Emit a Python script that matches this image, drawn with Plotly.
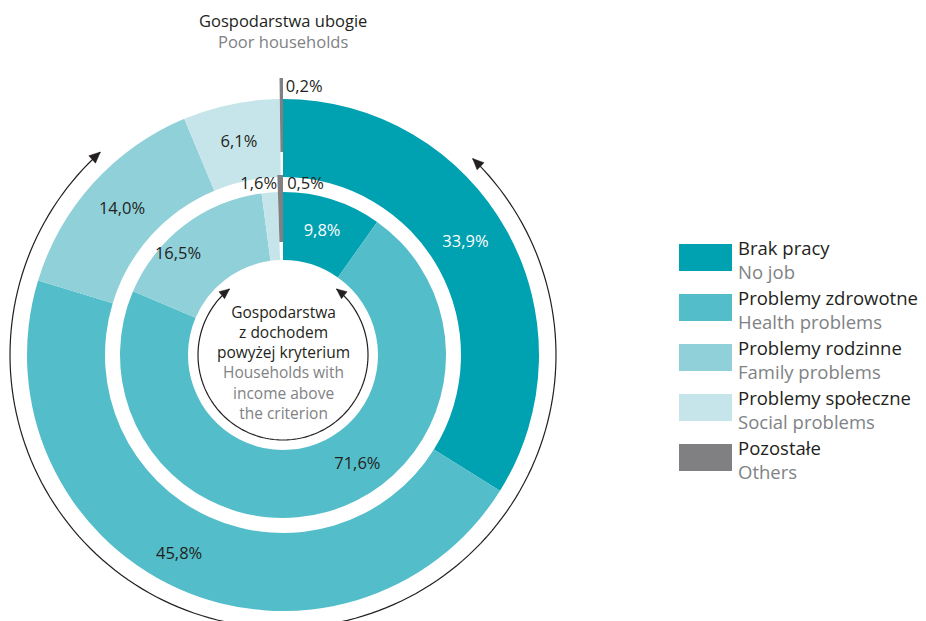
import numpy as np
import plotly.graph_objects as go

# ---- data ---------------------------------------------------------------
categories_pl = ["Brak pracy", "Problemy zdrowotne", "Problemy rodzinne",
                 "Problemy społeczne", "Pozostałe"]
categories_en = ["No job", "Health problems", "Family problems",
                 "Social problems", "Others"]
poor_share = [33.9, 45.8, 14.0, 6.1, 0.2]        # outer ring: poor households
above_share = [9.8, 71.6, 16.5, 1.6, 0.5]        # inner ring: income above criterion

# ---- style --------------------------------------------------------------
colors = ["#00a1b1", "#53bdca", "#8fd0d9", "#c6e5eb", "#808083"]
DARK = "#231f20"
GREY = "#808285"
FONT = "Open Sans"

W, H = 926, 621
CX, CY = 283, 355          # ring centre in pixels
R_AX = 266                 # radial axis length of the main polar (1 unit == 1 px)
R_TOP = 290                # radial length of the narrow top sector (1 unit == 1 px)

# ring geometry in radial units
OUTER_BASE, OUTER_T = 178, 78
INNER_BASE, INNER_T = 95, 68
OTHER_OUTER = (203, 74)    # "others" drawn as a protruding tick
OTHER_INNER = (113, 67)

LABEL_SIZE = 16.5


def pct(v):
    return f"{v:.1f}".replace(".", ",") + "%"


def ring_geometry(values):
    v = np.asarray(values, dtype=float)
    ends = np.cumsum(v) * 3.6
    starts = ends - v * 3.6
    return (starts + ends) / 2, v * 3.6


fig = go.Figure()

rings = [
    ("outer", poor_share, OUTER_BASE, OUTER_T, OTHER_OUTER),
    ("inner", above_share, INNER_BASE, INNER_T, OTHER_INNER),
]
for name, vals, base, thick, other in rings:
    mids, widths = ring_geometry(vals)
    bases = [base] * (len(vals) - 1) + [other[0]]
    lengths = [thick] * (len(vals) - 1) + [other[1]]
    n = len(vals) if name == "inner" else len(vals) - 1
    fig.add_trace(go.Barpolar(
        theta=mids[:n], width=widths[:n], base=bases[:n], r=lengths[:n],
        marker=dict(color=colors[:n], line=dict(width=0)),
        hoverinfo="skip", showlegend=False, name=name,
    ))
    if name == "outer":
        # the outer "others" tick reaches past the main polar's radius,
        # so it lives in a narrow top sector sharing the same centre/scale
        fig.add_trace(go.Barpolar(
            theta=mids[n:], width=widths[n:], base=bases[n:], r=lengths[n:],
            marker=dict(color=colors[n:], line=dict(width=0)),
            hoverinfo="skip", showlegend=False, subplot="polar2",
        ))

# ---- value labels -------------------------------------------------------
label_override = {
    ("outer", 0): (58.5, 214), ("outer", 1): (207.5, 225),
    ("inner", 1): (146, 133), ("inner", 2): (313.6, 145),
}
for name, vals, base, thick, other in rings:
    mids, widths = ring_geometry(vals)
    in_t, in_r, in_txt, in_col = [], [], [], []
    for i, v in enumerate(vals):
        if v < 2:
            continue
        th, rr = label_override.get((name, i), (mids[i], base + thick / 2))
        in_t.append(th); in_r.append(rr); in_txt.append(pct(v))
        in_col.append("white" if i == 0 else DARK)
    fig.add_trace(go.Scatterpolar(
        theta=in_t, r=in_r, text=in_txt, mode="text",
        textfont=dict(family=FONT, size=LABEL_SIZE, color=in_col),
        hoverinfo="skip", showlegend=False, cliponaxis=False,
    ))

# small slices labelled beside the ring
fig.add_trace(go.Scatterpolar(
    theta=[0.6], r=[267], text=[pct(poor_share[4])],
    mode="text", textposition="middle right",
    textfont=dict(family=FONT, size=LABEL_SIZE, color=DARK),
    hoverinfo="skip", showlegend=False, cliponaxis=False, subplot="polar2",
))
fig.add_trace(go.Scatterpolar(
    theta=[1.4], r=[170], text=[pct(above_share[4])],
    mode="text", textposition="middle right",
    textfont=dict(family=FONT, size=LABEL_SIZE, color=DARK),
    hoverinfo="skip", showlegend=False, cliponaxis=False,
))
fig.add_trace(go.Scatterpolar(
    theta=[-2.0], r=[170], text=[pct(above_share[3])],
    mode="text", textposition="middle left",
    textfont=dict(family=FONT, size=LABEL_SIZE, color=DARK),
    hoverinfo="skip", showlegend=False, cliponaxis=False,
))

hidden_angular = dict(direction="clockwise", rotation=90, visible=False)
fig.update_layout(
    width=W, height=H, autosize=False,
    margin=dict(l=0, r=0, t=0, b=0),
    paper_bgcolor="white", plot_bgcolor="white",
    polar=dict(
        domain=dict(x=[(CX - R_AX) / W, (CX + R_AX) / W],
                    y=[1 - (CY + R_AX) / H, 1 - (CY - R_AX) / H]),
        bgcolor="white", bargap=0,
        radialaxis=dict(range=[0, R_AX], visible=False),
        angularaxis=hidden_angular,
    ),
    # sector 60..120 deg: bounding box is R wide and R tall, centre at bottom middle
    polar2=dict(
        domain=dict(x=[(CX - R_TOP / 2) / W, (CX + R_TOP / 2) / W],
                    y=[1 - CY / H, 1 - (CY - R_TOP) / H]),
        sector=[60, 120],
        bgcolor="rgba(0,0,0,0)", bargap=0,
        radialaxis=dict(range=[0, R_TOP], visible=False),
        angularaxis=hidden_angular,
    ),
)


# ---- curved arrows around the rings ----------------------------------------
def to_paper(x, y):
    return x / W, 1 - y / H


def arc_shapes(radius, a0, a1, head=10, half=4.5):
    """Arc through the bottom from angle a0 to a1 (clockwise from top),
    with arrowheads whose tips sit at both ends."""
    shapes = []
    ang = np.radians(np.linspace(a0, a1, 160))
    xs = CX + radius * np.sin(ang)
    ys = CY - radius * np.cos(ang)
    pts = [to_paper(x, y) for x, y in zip(xs, ys)]
    path = "M " + " L ".join(f"{px:.5f},{py:.5f}" for px, py in pts)
    shapes.append(dict(type="path", path=path, xref="paper", yref="paper",
                       line=dict(color=DARK, width=1.2)))
    for a, sgn in ((a0, -1), (a1, 1)):
        t = np.radians(a)
        tx, ty = CX + radius * np.sin(t), CY - radius * np.cos(t)
        dx, dy = sgn * np.cos(t), sgn * np.sin(t)
        nx, ny = -dy, dx
        b = (tx - dx * head, ty - dy * head)
        p1 = (b[0] + nx * half, b[1] + ny * half)
        p2 = (b[0] - nx * half, b[1] - ny * half)
        tri = [to_paper(tx, ty), to_paper(*p1), to_paper(*p2)]
        tpath = "M " + " L ".join(f"{px:.5f},{py:.5f}" for px, py in tri) + " Z"
        shapes.append(dict(type="path", path=tpath, xref="paper", yref="paper",
                           fillcolor=DARK, line=dict(color=DARK, width=0.5)))
    return shapes


shapes = arc_shapes(273, 44, 318, head=11, half=5) + \
    arc_shapes(85, 39, 321, head=10, half=4.5)


def text_block(x, y, text, size, color, anchor="left"):
    px, py = to_paper(x, y)
    return dict(x=px, y=py, xref="paper", yref="paper", xanchor=anchor,
                yanchor="middle", showarrow=False, text=text, align=anchor,
                font=dict(family=FONT, size=size, color=color))


# ---- legend -------------------------------------------------------------
annotations = []
LEG_X0, LEG_X1, LEG_Y0, LEG_H, LEG_STEP = 679, 732, 244, 27, 50
for i, (pl, en) in enumerate(zip(categories_pl, categories_en)):
    top = LEG_Y0 + i * LEG_STEP
    x0, y0 = to_paper(LEG_X0, top)
    x1, y1 = to_paper(LEG_X1, top + LEG_H)
    shapes.append(dict(type="rect", xref="paper", yref="paper",
                       x0=x0, x1=x1, y0=y1, y1=y0,
                       fillcolor=colors[i], line=dict(width=0)))
    annotations.append(text_block(
        736, top + 15.5, f"{pl}<br><span style='color:{GREY}'>{en}</span>", 18.5, DARK))

# ---- titles -------------------------------------------------------------
annotations.append(text_block(
    CX, 31, f"Gospodarstwa ubogie<br><span style='color:{GREY}'>Poor households</span>",
    16.5, DARK, "center"))
annotations.append(text_block(
    CX, 362,
    "Gospodarstwa<br>z dochodem<br>powyżej kryterium<br>"
    f"<span style='color:{GREY}'>Households with<br>income above<br>the criterion</span>",
    15.5, DARK, "center"))

fig.update_layout(shapes=shapes, annotations=annotations)
fig.write_html("out.html")
